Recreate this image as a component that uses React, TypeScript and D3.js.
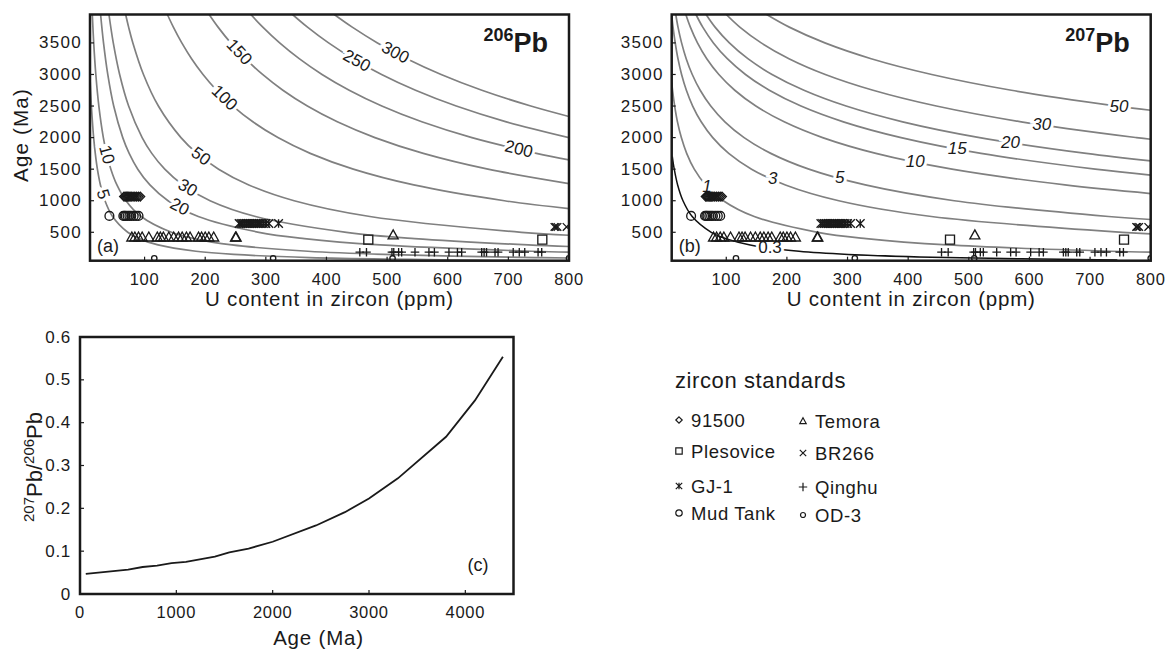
import React from 'react';
import * as d3 from 'd3';

// axis ticks
const uTicks = [100, 200, 300, 400, 500, 600, 700, 800];
const ageTicks = [500, 1000, 1500, 2000, 2500, 3000, 3500];
const cAgeTicks = [0, 1000, 2000, 3000, 4000];
const cRatioTicks = [0, 0.1, 0.2, 0.3, 0.4, 0.5, 0.6];

// 206Pb contour lines, [U ppm, age Ma]
const pb206Levels = ['5', '10', '20', '30', '50', '100', '150', '200', '250', '300'];
const pb206Lines: [number, number][][] = [
  [[10, 2956], [12.3, 2500], [16, 2000], [18.7, 1750], [22.2, 1500], [27.2, 1250], [34.7, 1000], [47.2, 750], [72.2, 500], [90.9, 400], [122.2, 300], [184.7, 200], [247.2, 150], [372.2, 100], [747, 50]],
  [[13.8, 3950], [16.1, 3500], [19.6, 3000], [24.6, 2500], [32, 2000], [37.3, 1750], [44.4, 1500], [54.4, 1250], [69.3, 1000], [94.3, 750], [144.3, 500], [181.8, 400], [244.3, 300], [369.3, 200], [494.3, 150], [744.4, 100], [800, 93]],
  [[27.5, 3950], [32.3, 3500], [39.3, 3000], [49.1, 2500], [64, 2000], [74.6, 1750], [88.8, 1500], [108.8, 1250], [138.7, 1000], [188.6, 750], [288.6, 500], [363.6, 400], [488.6, 300], [738.7, 200], [800, 185]],
  [[41.3, 3950], [48.4, 3500], [58.9, 3000], [73.7, 2500], [96, 2000], [111.9, 1750], [133.3, 1500], [163.2, 1250], [208, 1000], [283, 750], [432.9, 500], [545.4, 400], [732.9, 300], [800, 275]],
  [[68.8, 3950], [73.7, 3750], [80.7, 3500], [98.2, 3000], [122.8, 2500], [160, 2000], [186.6, 1750], [222.1, 1500], [271.9, 1250], [346.7, 1000], [471.6, 750], [721.5, 500], [800, 453]],
  [[137.6, 3950], [147.5, 3750], [161.4, 3500], [177.5, 3250], [196.4, 3000], [218.8, 2750], [245.7, 2500], [278.6, 2250], [319.9, 2000], [373.2, 1750], [444.2, 1500], [543.9, 1250], [693.5, 1000], [800, 875]],
  [[206.5, 3950], [221.2, 3750], [242.1, 3500], [266.3, 3250], [294.6, 3000], [328.1, 2750], [368.5, 2500], [417.9, 2250], [479.9, 2000], [559.7, 1750], [666.3, 1500], [800, 1272]],
  [[275.3, 3950], [295, 3750], [322.8, 3500], [355, 3250], [392.7, 3000], [437.5, 2750], [491.3, 2500], [557.2, 2250], [639.9, 2000], [746.3, 1750], [800, 1646]],
  [[344.1, 3950], [368.7, 3750], [403.5, 3500], [443.8, 3250], [490.9, 3000], [546.9, 2750], [614.1, 2500], [696.6, 2250], [800, 2000]],
  [[412.9, 3950], [442.5, 3750], [484.1, 3500], [532.5, 3250], [589.1, 3000], [656.3, 2750], [737, 2500], [800, 2334]],
];
const pb206LabelAt: [number, number][] = [
  [27, 1090], [35, 1723], [155, 853], [167, 1138], [192, 1691],
  [228, 2592], [254, 3337], [716, 1771], [444, 3115], [513, 3337],
];

// 207Pb contour lines
const pb207Levels = ['0.3', '1', '3', '5', '10', '15', '20', '30', '50'];
const pb207Lines: [number, number][][] = [
  [[11, 1700], [14.2, 1500], [19.8, 1250], [28.6, 1000], [43.8, 750], [75.3, 500], [99.2, 400], [139.4, 300], [220, 200], [301, 150], [463, 100], [745, 63]],
  [[10, 2875], [11.4, 2750], [14.9, 2500], [19.5, 2250], [25.9, 2000], [34.7, 1750], [47.2, 1500], [65.9, 1250], [95.2, 1000], [146.1, 750], [251, 500], [330.8, 400], [464.5, 300], [733.6, 200], [800, 185]],
  [[10, 3950], [12.2, 3750], [15.8, 3500], [20.3, 3250], [26.3, 3000], [34.2, 2750], [44.6, 2500], [58.6, 2250], [77.7, 2000], [104, 1750], [141.7, 1500], [197.6, 1250], [285.6, 1000], [438.3, 750], [753, 500], [800, 476]],
  [[16.7, 3950], [20.4, 3750], [26.3, 3500], [33.9, 3250], [43.9, 3000], [57, 2750], [74.4, 2500], [97.7, 2250], [129.4, 2000], [173.4, 1750], [236.2, 1500], [329.3, 1250], [476, 1000], [730.6, 750], [800, 703]],
  [[33.3, 3950], [40.8, 3750], [52.5, 3500], [67.8, 3250], [87.8, 3000], [114, 2750], [148.8, 2500], [195.5, 2250], [258.9, 2000], [346.8, 1750], [472.3, 1500], [658.6, 1250], [800, 1114]],
  [[50, 3950], [61.2, 3750], [78.8, 3500], [101.7, 3250], [131.7, 3000], [171, 2750], [223.2, 2500], [293.2, 2250], [388.3, 2000], [520.2, 1750], [708.5, 1500], [800, 1406]],
  [[66.7, 3950], [81.5, 3750], [105.1, 3500], [135.6, 3250], [175.5, 3000], [228.1, 2750], [297.7, 2500], [390.9, 2250], [517.8, 2000], [693.7, 1750], [800, 1632]],
  [[100, 3950], [122.3, 3750], [157.6, 3500], [203.4, 3250], [263.3, 3000], [342.1, 2750], [446.5, 2500], [586.4, 2250], [776.6, 2000], [800, 1974]],
  [[166.6, 3950], [203.9, 3750], [262.6, 3500], [339, 3250], [438.9, 3000], [570.2, 2750], [744.2, 2500], [800, 2433]],
];
const pb207LabelAt: [number, number][] = [
  [172, 250], [70, 1248], [177, 1354], [287, 1354], [411, 1592],
  [480, 1775], [568, 1881], [620, 2198], [747, 2449],
];

// zircon standards: U contents (ppm) and ages (Ma)
const u91500 = [66, 68, 70, 72, 74, 76, 78, 81, 84, 87, 90, 93];
const uPlesovice = [469, 756];
const uGJ1 = [256, 259, 262, 265, 268, 271, 274, 277, 280, 283, 286, 289, 292, 296, 300, 305, 321];
const uMudTank = [42, 65, 67, 69, 72, 75, 78, 82, 86, 90];
const uTemora = [79, 84, 90, 96, 107, 121, 126, 131, 140, 148, 156, 162, 169, 175, 189, 194, 200, 206, 214, 250, 251];
const uBR266 = [776, 778, 781, 796];
const uQinghu = [455, 466, 508, 511, 519, 524, 546, 569, 578, 602, 616, 623, 656, 660, 664, 678, 683, 708, 718, 727, 749, 755];
const uOD3 = [116, 312, 509, 800];
const standardNames = ['91500', 'Plesovice', 'GJ-1', 'Mud Tank', 'Temora', 'BR266', 'Qinghu', 'OD-3'];
const standardAges = [1065, 385, 640, 760, 425, 585, 185, 88];
const temoraOutlier: [number, number] = [510, 460];

// 207Pb/206Pb of radiogenic lead vs age
const cAges = [60, 500, 650, 800, 950, 1100, 1400, 1550, 1750, 2000, 2450, 2750, 3000, 3300, 3800, 4100, 4390];
const cRatios = [0.047, 0.057, 0.063, 0.066, 0.072, 0.075, 0.087, 0.097, 0.106, 0.122, 0.16, 0.191, 0.223, 0.27, 0.367, 0.452, 0.554];

const FONT = "'Liberation Sans', Arial, Helvetica, sans-serif";
const INK = '#1a1a1a';
const GRAY = '#808080';

const shapes = ['diamond', 'square', 'asterisk', 'circle', 'triangle', 'cross', 'plus', 'dot'];

function shapePath(kind: string, s: number) {
  switch (kind) {
    case 'diamond': return `M0,${-s}L${s},0L0,${s}L${-s},0Z`;
    case 'square': return `M${-s},${-s}H${s}V${s}H${-s}Z`;
    case 'asterisk': return `M${-s},${-s}L${s},${s}M${-s},${s}L${s},${-s}M0,${-s}L0,${s}`;
    case 'triangle': return `M0,${-s}L${s},${s * 0.8}L${-s},${s * 0.8}Z`;
    case 'cross': return `M${-s},${-s}L${s},${s}M${-s},${s}L${s},${-s}`;
    case 'plus': return `M${-s},0H${s}M0,${-s}V${s}`;
    default: return d3.symbol(d3.symbolCircle, Math.PI * s * s)() || '';
  }
}

const markerSize: Record<string, number> = {
  diamond: 4.3, square: 4.5, asterisk: 4.3, circle: 4.4, triangle: 5, cross: 3.8, plus: 4.3, dot: 2.7,
};

function nearestOnLine(pts: [number, number][], px: number, py: number) {
  let best = Infinity, ang = 0, qx = px, qy = py;
  for (let i = 0; i < pts.length - 1; i++) {
    const [ax, ay] = pts[i];
    const [bx, by] = pts[i + 1];
    const dx = bx - ax, dy = by - ay;
    let t = ((px - ax) * dx + (py - ay) * dy) / (dx * dx + dy * dy);
    t = Math.max(0, Math.min(1, t));
    const cx = ax + t * dx, cy = ay + t * dy;
    const d = (px - cx) ** 2 + (py - cy) ** 2;
    if (d < best) { best = d; ang = Math.atan2(dy, dx) * 180 / Math.PI; qx = cx; qy = cy; }
  }
  return { x: qx, y: qy, ang };
}

const TOP = 14.5, BOTTOM = 260.7;

function ContourPanel(props: {
  id: string; x0: number; x1: number; levels: string[]; lines: [number, number][][];
  labelAt: [number, number][]; iso: string; tag: string; isB: boolean;
}) {
  const { id, x0, x1, levels, lines, labelAt, iso, tag, isB } = props;
  const x = d3.scaleLinear().domain([10, 800]).range([x0, x1]);
  const y = d3.scaleLinear().domain([50, 3950]).range([BOTTOM, TOP]);
  const line = d3.line<[number, number]>().x(d => x(d[0])).y(d => y(d[1])).curve(d3.curveCatmullRom.alpha(0.5));

  const points: { kind: string; u: number; age: number }[] = [];
  const uLists = [u91500, uPlesovice, uGJ1, uMudTank, uTemora, uBR266, uQinghu, uOD3];
  uLists.forEach((list, i) => list.forEach(u => points.push({ kind: shapes[i], u, age: standardAges[i] })));
  points.push({ kind: 'triangle', u: temoraOutlier[0], age: temoraOutlier[1] });

  return (
    <g>
      <defs>
        <clipPath id={`clip-${id}`}>
          <rect x={x0} y={TOP} width={x1 - x0} height={BOTTOM - TOP} />
        </clipPath>
      </defs>
      <g clipPath={`url(#clip-${id})`}>
        {lines.map((pts, i) => (
          <path key={i} d={line(pts) || ''} fill="none"
            stroke={isB && i === 0 ? '#111' : GRAY} strokeWidth={isB && i === 0 ? 1.5 : 1.7} />
        ))}
        {lines.map((pts, i) => {
          const scr = pts.map(p => [x(p[0]), y(p[1])] as [number, number]);
          const q = nearestOnLine(scr, x(labelAt[i][0]), y(labelAt[i][1]));
          const rot = isB ? 0 : q.ang;
          return (
            <text key={'l' + i} transform={`translate(${q.x},${q.y}) rotate(${rot})`}
              textAnchor="middle" dominantBaseline="central" fontSize={17}
              fontStyle={isB && i > 0 ? 'italic' : 'normal'}
              fill={INK} stroke="#fff" strokeWidth={6} paintOrder="stroke">
              {levels[i]}
            </text>
          );
        })}
        {points.map((p, i) => (
          <path key={'p' + i} d={shapePath(p.kind, markerSize[p.kind])}
            transform={`translate(${x(p.u)},${y(p.age)})`}
            fill="none" stroke={INK} strokeWidth={1.35} />
        ))}
      </g>
      <rect x={x0} y={TOP} width={x1 - x0} height={BOTTOM - TOP} fill="none" stroke={INK} strokeWidth={2.5} />
      {uTicks.map(t => (
        <g key={'xt' + t}>
          <line x1={x(t)} x2={x(t)} y1={BOTTOM} y2={BOTTOM - 4} stroke={INK} strokeWidth={1.2} />
          <text x={x(t)} y={285} textAnchor="middle" fontSize={16.5} letterSpacing={0.7} fill={INK}>{t}</text>
        </g>
      ))}
      {ageTicks.map(t => (
        <g key={'yt' + t}>
          <line x1={x0} x2={x0 + 4} y1={y(t)} y2={y(t)} stroke={INK} strokeWidth={1.2} />
          <text x={x0 - 8} y={y(t)} textAnchor="end" dominantBaseline="central" fontSize={17} letterSpacing={1.3} fill={INK}>{t}</text>
        </g>
      ))}
      <text x={(x0 + x1) / 2} y={306} textAnchor="middle" fontSize={20.5} letterSpacing={0.8} fill={INK}>
        U content in zircon (ppm)
      </text>
      {!isB && (
        <text transform={`translate(28,135) rotate(-90)`} textAnchor="middle" fontSize={20.5} letterSpacing={1.2} fill={INK}>
          Age (Ma)
        </text>
      )}
      <text x={x1 - 21} y={52} textAnchor="end" fontWeight="bold" fill={INK}>
        <tspan fontSize={18} dy={-11}>{iso}</tspan>
        <tspan fontSize={27} dy={11}>Pb</tspan>
      </text>
      <text x={x0 + 7} y={252} fontSize={18} fill={INK}>{tag}</text>
    </g>
  );
}

function RatioPanel() {
  const x0 = 80, x1 = 513.5, y0 = 337, y1 = 594;
  const x = d3.scaleLinear().domain([0, 4500]).range([x0, x1]);
  const y = d3.scaleLinear().domain([0, 0.6]).range([y1, y0]);
  const line = d3.line<number>().x((_, i) => x(cAges[i])).y(d => y(d));
  return (
    <g>
      <path d={line(cRatios) || ''} fill="none" stroke={INK} strokeWidth={1.8} />
      <rect x={x0} y={y0} width={x1 - x0} height={y1 - y0} fill="none" stroke={INK} strokeWidth={2.5} />
      {cAgeTicks.map(t => (
        <g key={'cx' + t}>
          <line x1={x(t)} x2={x(t)} y1={y1} y2={y1 - 4} stroke={INK} strokeWidth={1.2} />
          <text x={x(t)} y={618} textAnchor="middle" fontSize={16.5} letterSpacing={0.7} fill={INK}>{t}</text>
        </g>
      ))}
      {cRatioTicks.map(t => (
        <g key={'cy' + t}>
          <line x1={x0} x2={x0 + 4} y1={y(t)} y2={y(t)} stroke={INK} strokeWidth={1.2} />
          <text x={x0 - 9} y={y(t)} textAnchor="end" dominantBaseline="central" fontSize={17} letterSpacing={0.7} fill={INK}>
            {d3.format('~g')(t)}
          </text>
        </g>
      ))}
      <text x={318.5} y={645} textAnchor="middle" fontSize={20.5} letterSpacing={0.8} fill={INK}>Age (Ma)</text>
      <text transform={`translate(42,467) rotate(-90)`} textAnchor="middle" fill={INK} fontSize={22}>
        <tspan fontSize={15} dy={-8}>207</tspan>
        <tspan dy={8}>Pb/</tspan>
        <tspan fontSize={15} dy={-8}>206</tspan>
        <tspan dy={8}>Pb</tspan>
      </text>
      <text x={478} y={571} textAnchor="middle" fontSize={18} fill={INK}>(c)</text>
    </g>
  );
}

function Legend() {
  const colX = [679, 803];
  const rowY = [[420, 451, 486, 513], [421, 453, 487, 515]];
  const order = [[0, 1, 2, 3], [4, 5, 6, 7]];
  return (
    <g>
      <text x={675} y={388} fontSize={22} letterSpacing={0.6} fill={INK}>zircon standards</text>
      {order.map((col, c) => col.map((si, r) => (
        <g key={si} transform={`translate(${colX[c]},${rowY[c][r]})`}>
          <path d={shapePath(shapes[si], shapes[si] === 'dot' ? 2.5 : shapes[si] === 'plus' ? 4.2 : 3.2)}
            fill="none" stroke={INK} strokeWidth={1.2} />
          <text x={12} y={0} dominantBaseline="central" fontSize={18.5} letterSpacing={0.6} fill={INK}>
            {standardNames[si]}
          </text>
        </g>
      )))}
    </g>
  );
}

export default function App() {
  return (
    <svg width={1168} height={652} style={{ position: 'absolute', left: 0, top: 0, background: '#fff' }} fontFamily={FONT}>
      <rect width={1168} height={652} fill="#fff" />
      <ContourPanel id="a" x0={90} x1={569} levels={pb206Levels} lines={pb206Lines} labelAt={pb206LabelAt} iso="206" tag="(a)" isB={false} />
      <ContourPanel id="b" x0={671.7} x1={1150.7} levels={pb207Levels} lines={pb207Lines} labelAt={pb207LabelAt} iso="207" tag="(b)" isB={true} />
      <RatioPanel />
      <Legend />
    </svg>
  );
}
